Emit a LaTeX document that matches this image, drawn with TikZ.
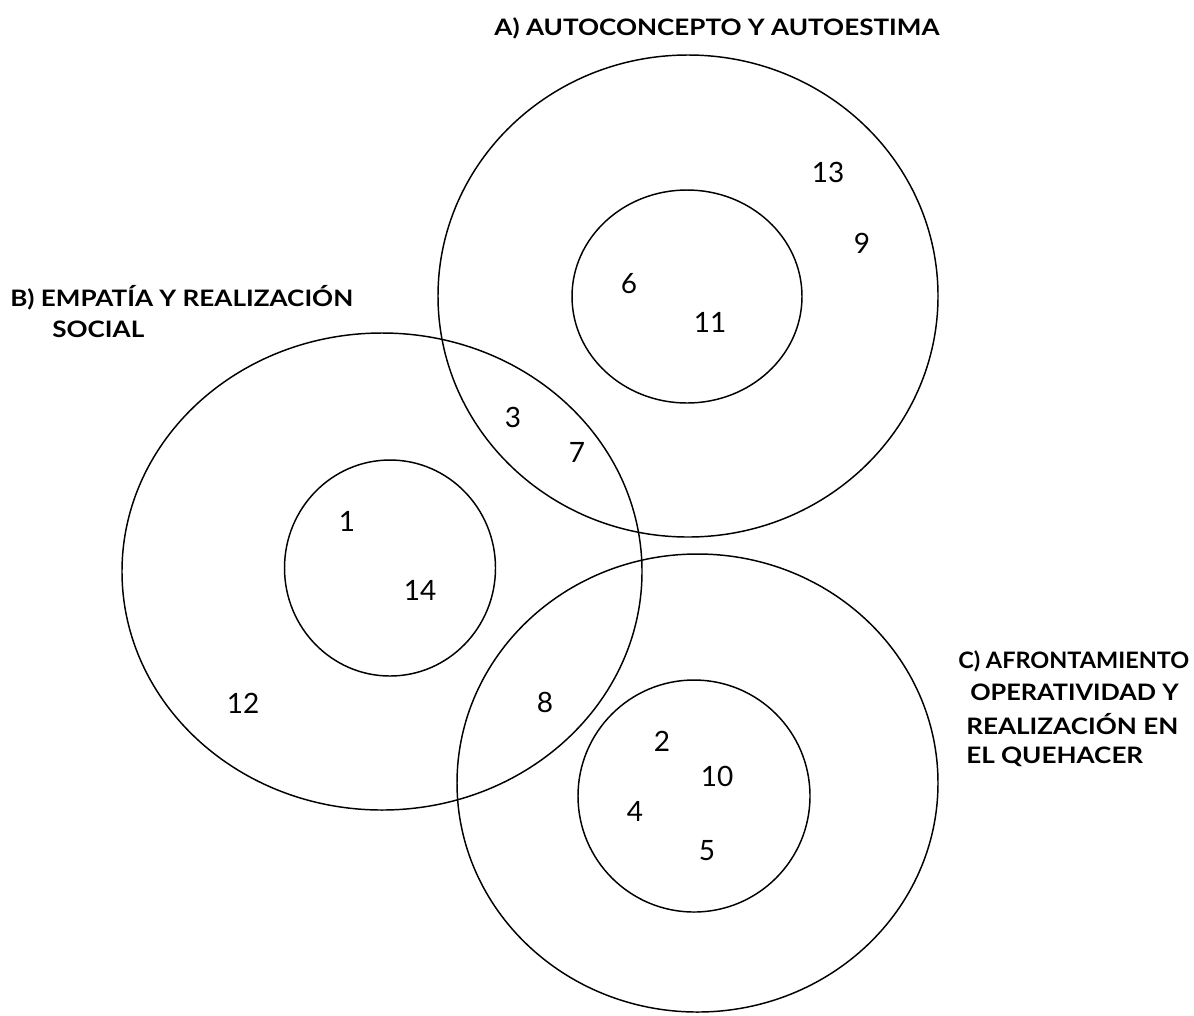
\documentclass[tikz,border=0pt]{standalone}
\usepackage{fontspec}
\setmainfont{Lato}
\newfontfamily\lblfont[FakeStretch=1.15]{Lato}
\begin{document}
\begin{tikzpicture}[x=0.75pt,y=-0.75pt,
  ring/.style={draw=black,line width=1.1pt},
  lbl/.style={font=\lblfont\fontsize{17}{21}\selectfont\bfseries,inner sep=0pt},
  num/.style={font=\fontsize{21}{24}\selectfont,inner sep=0pt}]
\useasboundingbox (0,0) rectangle (1194,1015);
% A
\draw[ring] (688,296) ellipse [x radius=250,y radius=241];
\draw[ring] (687,296.5) ellipse [x radius=115,y radius=106.5];
% B
\draw[ring] (382,571.5) ellipse [x radius=260,y radius=238.5];
\draw[ring] (390,568) ellipse [x radius=105.5,y radius=108];
% C
\draw[ring] (697.5,783) ellipse [x radius=240.5,y radius=229];
\draw[ring] (694,796) ellipse [x radius=116,y radius=116];
% labels
\node[lbl] (la) at (717,28) {A) AUTOCONCEPTO Y AUTOESTIMA};
\node[lbl,anchor=west] (lb1) at (10,298) {B) EMPATÍA Y REALIZACIÓN};
\node[lbl,anchor=west] (lb2) at (52,329) {SOCIAL};
\node[lbl,anchor=west] (lc1) at (958,661) {\scalebox{0.9}[1]{C) AFRONTAMIENTO}};
\node[lbl,anchor=west] (lc2) at (970,692) {\scalebox{0.97}[1]{OPERATIVIDAD Y}};
\node[lbl,anchor=west] (lc3) at (966,724) {REALIZACIÓN EN};
\node[lbl,anchor=west] (lc4) at (966,757) {EL QUEHACER};
% numbers
\node[num] (n13) at (828,172) {13};
\node[num] (n9) at (862,243) {9};
\node[num] (n6) at (629,284) {6};
\node[num] (n11) at (710,322) {11};
\node[num] (n3) at (513,417) {3};
\node[num] (n7) at (577,452) {7};
\node[num] (n1) at (347,521) {1};
\node[num] (n14) at (420,590) {14};
\node[num] (n12) at (243,703) {12};
\node[num] (n8) at (545,702) {8};
\node[num] (n2) at (662,741) {2};
\node[num] (n10) at (717,776) {10};
\node[num] (n4) at (635,811) {4};
\node[num] (n5) at (707,851) {5};
\end{tikzpicture}
\end{document}
